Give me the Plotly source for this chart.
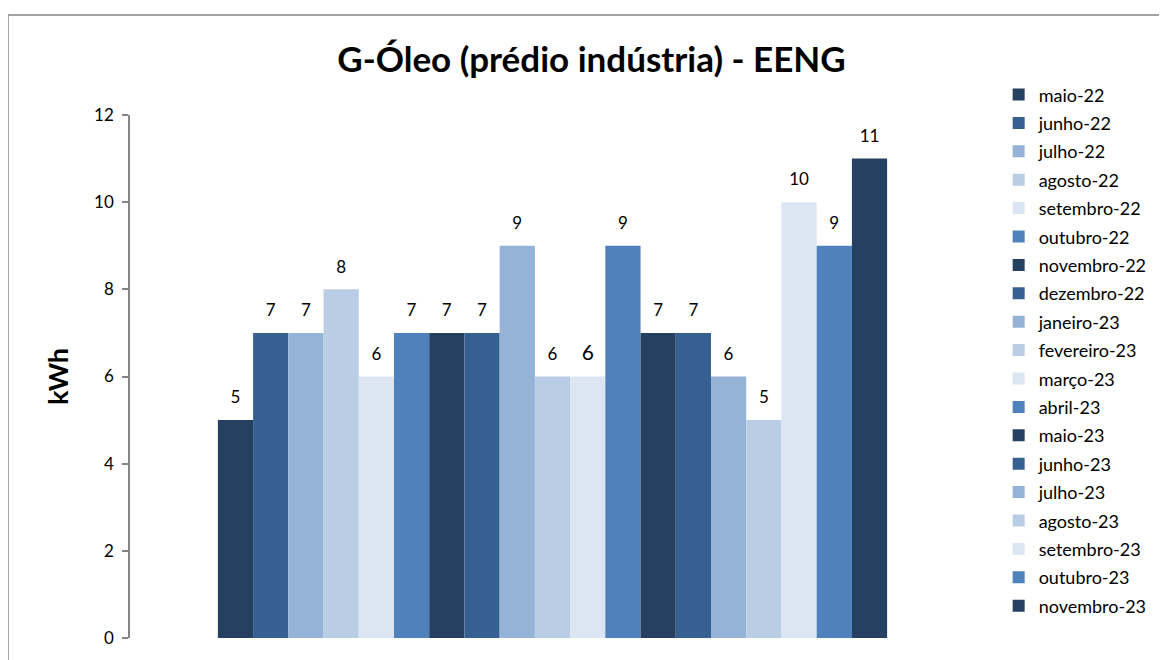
import plotly.graph_objects as go

months = ["maio-22", "junho-22", "julho-22", "agosto-22", "setembro-22", "outubro-22",
          "novembro-22", "dezembro-22", "janeiro-23", "fevereiro-23", "março-23", "abril-23",
          "maio-23", "junho-23", "julho-23", "agosto-23", "setembro-23", "outubro-23",
          "novembro-23"]
values = [5, 7, 7, 8, 6, 7, 7, 7, 9, 6, 6, 9, 7, 7, 6, 5, 10, 9, 11]
palette = ["#254061", "#376092", "#95B3D7", "#B9CDE5", "#DCE6F2", "#4F81BD"]
category = [""]

FONT = "Lato"

fig = go.Figure()
for i, (m, v) in enumerate(zip(months, values)):
    size = 21 if m == "março-23" else 17
    fig.add_trace(go.Bar(
        x=category, y=[v], name=m,
        marker=dict(color=palette[i % len(palette)], line=dict(width=0)),
        text=[f"<span style='font-size:{size}px'>{v}</span><br> "],
        textposition="outside",
        textfont=dict(size=9, color="#000000", family=FONT),
        cliponaxis=False, legendgroup=m,
    ))

fig.update_layout(
    width=1167, height=660,
    barmode="group", bargap=0.208, bargroupgap=0,
    paper_bgcolor="white", plot_bgcolor="white",
    margin=dict(l=122, r=200, t=107, b=30),
    title=dict(text="<b>G-Óleo (prédio indústria) - EENG</b>", x=0.5, xanchor="center",
               y=0.921, yanchor="middle",
               font=dict(size=35, family=FONT, color="#000000")),
    font=dict(family=FONT, color="#000000"),
    showlegend=True,
    legend=dict(x=1.028, xanchor="left", y=1.074, yanchor="top",
                font=dict(size=18, family=FONT, color="#000000"),
                tracegroupgap=2, itemwidth=30, bgcolor="rgba(0,0,0,0)",
                maxheight=1.0),
    xaxis=dict(showticklabels=False, showline=False, ticks="", showgrid=False,
               zeroline=False),
    yaxis=dict(range=[0, 12], dtick=2, showgrid=False, zeroline=False,
               showline=True, linecolor="#868686", linewidth=1.5,
               ticks="outside", ticklen=6, tickcolor="#868686", tickwidth=1.5,
               ticklabelstandoff=5,
               tickfont=dict(size=17, family=FONT, color="#000000"),
               title=dict(text="<b>kWh</b>", font=dict(size=27, family=FONT, color="#000000"),
                          standoff=18)),
    shapes=[dict(type="rect", xref="paper", yref="paper",
                 x0=-0.1444, x1=1.5, y0=-0.2, y1=1.1912,
                 line=dict(color="#868686", width=1.5), fillcolor="rgba(0,0,0,0)",
                 layer="below")],
)

fig.write_html("out.html")
